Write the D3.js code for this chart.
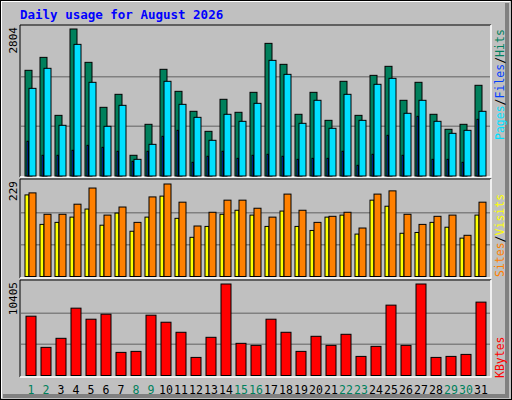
<!DOCTYPE html>
<html><head><meta charset="utf-8">
<script src="https://cdn.jsdelivr.net/npm/d3@7"></script>
<style>body{margin:0;background:#fff}svg{display:block}text{font-family:"DejaVu Sans Mono",monospace}</style>
</head><body><svg id="c" width="512" height="400"></svg>
<script>
const days = d3.range(1, 32);
const weekend = [1,2,8,9,15,16,22,23,29,30];
const hits  = [2016,2263,1157,2804,2168,1310,1558,395,986,2035,1615,1234,852,1463,1215,1596,2530,2130,1177,1596,1062,1806,1157,1920,2092,1444,1787,1177,891,986,1730];
const files = [1672,2054,967,2511,1787,948,1348,318,604,1806,1367,1119,681,1177,1043,1386,2206,1939,1005,1444,910,1558,1062,1749,1863,1196,1444,1043,814,871,1234];
const pages = [662,395,395,490,585,547,471,280,471,757,871,261,376,471,337,395,414,376,318,337,337,471,204,414,776,395,1138,318,318,261,1081];
const visits = [207,154,154,179,219,152,172,134,197,229,184,125,159,189,189,169,147,204,164,134,149,159,120,204,212,154,129,149,152,102,184];
const sites  = [202,129,134,147,167,127,157,112,147,199,144,97,124,154,164,152,124,162,124,114,147,152,105,189,174,107,109,134,122,95,152];
const kbytes = [6744,3200,4229,7658,6401,6972,2629,2743,6858,6058,4915,2057,4343,10405,3658,3429,6401,4915,2743,4458,3429,4686,2172,3315,8001,3429,10405,2057,2172,2400,8344];
const maxLabels = ["2804","229","10405"];

const svg = d3.select("#c");
svg.append("rect").attr("width",512).attr("height",400).attr("fill","#c0c0c0");
// frame
svg.append("path").attr("d","M1,398V1H510").attr("stroke","#fff").attr("stroke-width",2).attr("fill","none");
svg.append("path").attr("d","M507,3V396H3").attr("stroke","#808080").attr("stroke-width",4).attr("fill","none");
svg.append("rect").attr("x",0.5).attr("y",0.5).attr("width",511).attr("height",399).attr("fill","none").attr("stroke","#000");

svg.append("text").attr("x",20).attr("y",19).attr("fill","#0000ff").attr("font-weight","bold").attr("font-size",12.5).text("Daily usage for August 2026");

const x = d3.scaleLinear().domain([1,31]).range([25,475]);
const L = 20, R = 491;
const panels = [
  {top:25, bottom:177, base:176, maxTop:29, max:2804},
  {top:179, bottom:278, base:276.5, maxTop:184, max:229},
  {top:280, bottom:377, base:375.5, maxTop:284, max:10405}
];
panels.forEach((p,i)=>{
  svg.append("path").attr("d",`M${L},${p.bottom}V${p.top}H${R}`).attr("stroke","#000").attr("fill","none");
  svg.append("path").attr("d",`M${R},${p.top}V${p.bottom}H${L}`).attr("stroke","#fff").attr("stroke-width",1.5).attr("fill","none");
  const third = (p.base - p.top - 2)/3;
  [1,2].forEach(k=>svg.append("line").attr("x1",L+1).attr("x2",R-1)
    .attr("y1",p.base-k*third).attr("y2",p.base-k*third).attr("stroke","#808080").attr("stroke-width",1.5));
  p.y = d3.scaleLinear().domain([0,p.max]).range([p.base,p.maxTop]);
  svg.append("text").attr("transform",`translate(17,${p.top+2}) rotate(-90)`).attr("text-anchor","end")
    .attr("font-size",11).attr("fill","#000").text(maxLabels[i]);
});

function bars(vals, y, dx, w, color){
  svg.append("g").selectAll("rect").data(vals).join("rect")
    .attr("x",(d,i)=>x(days[i])+dx).attr("width",w)
    .attr("y",d=>y(d)).attr("height",d=>y(0)-y(d))
    .attr("fill",color).attr("stroke","#000").attr("stroke-width",1);
}
bars(hits, panels[0].y, 0, 7, "#00805c");
bars(files, panels[0].y, 4, 7, "#00e0ff");
bars(pages, panels[0].y, 2, 1.5, "#0040ff");
bars(sites, panels[1].y, 0, 4, "#ffff00");
bars(visits, panels[1].y, 4, 7, "#ff8000");
bars(kbytes, panels[2].y, 1, 10, "#ff0000");

svg.append("g").selectAll("text").data(days).join("text")
  .attr("x",d=>x(d)+6).attr("y",394).attr("text-anchor","middle").attr("font-size",11.5)
  .attr("fill",d=>weekend.includes(d)?"#00805c":"#000").text(d=>d);

function rlabel(y0, parts){
  const t = svg.append("text").attr("transform",`translate(504,${y0}) rotate(-90)`).attr("font-size",11.5);
  parts.forEach(([s,c])=>t.append("tspan").attr("fill",c).text(s));
}
rlabel(140, [["Pages","#00e0ff"],["/","#000"],["Files","#0040ff"],["/","#000"],["Hits","#00805c"]]);
rlabel(277, [["Sites","#ff8000"],["/","#000"],["Visits","#ffff00"]]);
rlabel(378, [["KBytes","#ff0000"]]);
</script></body></html>
